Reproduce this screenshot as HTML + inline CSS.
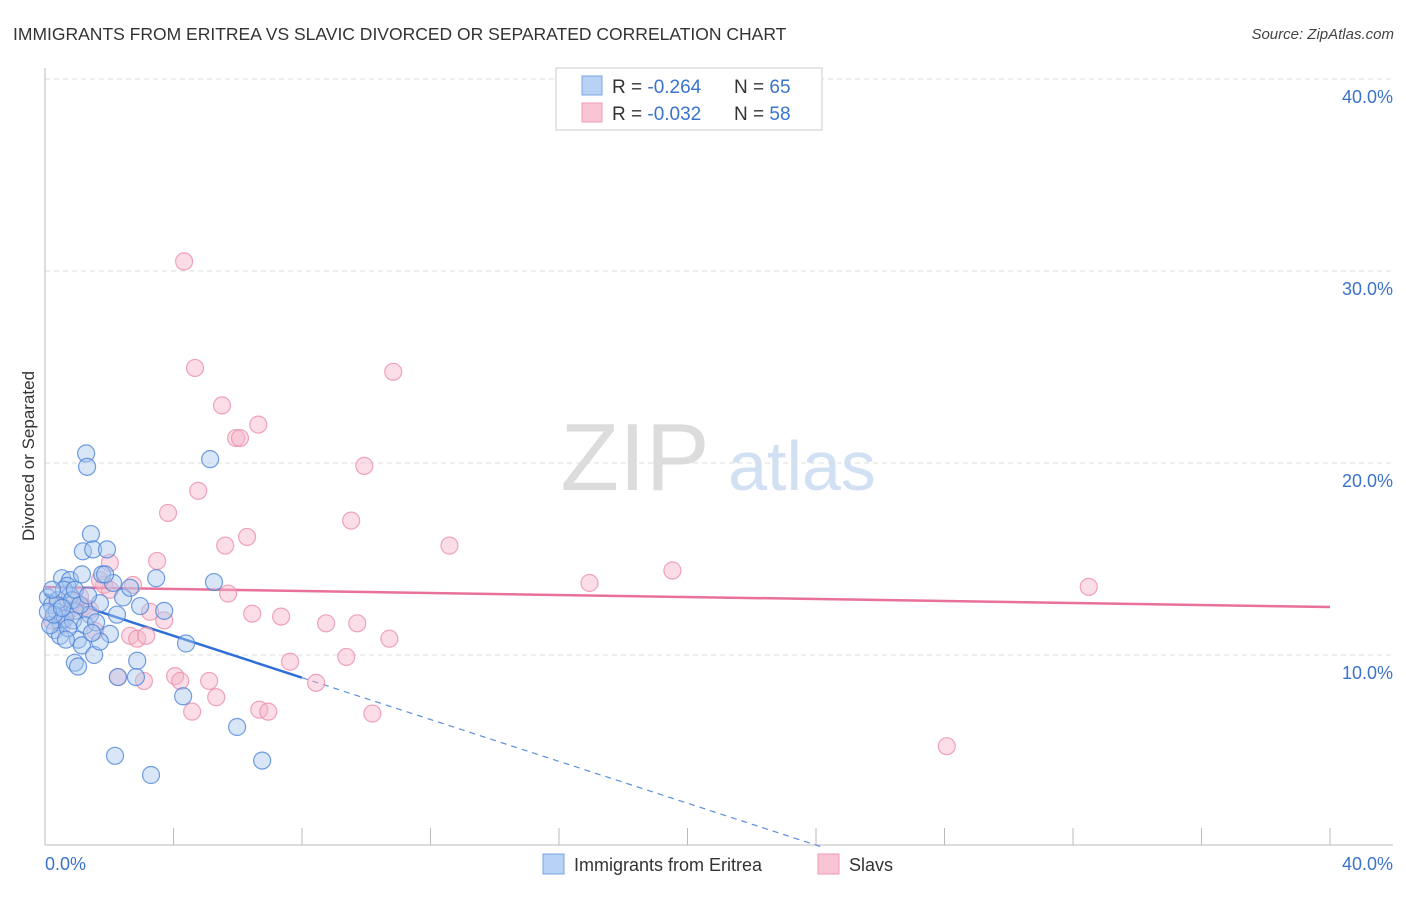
<!DOCTYPE html>
<html><head><meta charset="utf-8"><style>
body{margin:0;background:#fff;font-family:"Liberation Sans",sans-serif;}
svg text{font-family:"Liberation Sans",sans-serif;}
</style></head><body>
<svg id="chart" width="1406" height="892" xmlns="http://www.w3.org/2000/svg">
<text x="13" y="40" font-size="17.5" fill="#333">IMMIGRANTS FROM ERITREA VS SLAVIC DIVORCED OR SEPARATED CORRELATION CHART</text>
<text x="1394" y="39" font-size="15" fill="#444" font-style="italic" text-anchor="end">Source: ZipAtlas.com</text>
<g>
<text x="635" y="490" font-size="96" fill="#dcdcdc" font-family="Liberation Serif,serif" text-anchor="middle">ZIP</text>
<text x="802" y="490" font-size="70" fill="#d2e0f3" text-anchor="middle">atlas</text>
</g>
<g id="grid"></g>
<g id="axes"></g>
<text transform="translate(34,456) rotate(-90)" font-size="17" fill="#333" text-anchor="middle">Divorced or Separated</text>
<g id="trends"></g>
<g id="pts"></g>
<g>
<rect x="556" y="68" width="266" height="62" fill="#fff" stroke="#ccc"/>
<rect x="582" y="76" width="20" height="19" fill="#b8d2f5" stroke="#7aa6e3"/>
<rect x="582" y="103" width="20" height="19" fill="#f9c4d4" stroke="#ef9bb5"/>
<text x="612" y="93" font-size="19" fill="#333">R = <tspan fill="#3a73cc">-0.264</tspan><tspan x="734">N = </tspan><tspan fill="#3a73cc">65</tspan></text>
<text x="612" y="120" font-size="19" fill="#333">R = <tspan fill="#3a73cc">-0.032</tspan><tspan x="734">N = </tspan><tspan fill="#3a73cc">58</tspan></text>
</g>
<g>
<rect x="543" y="854" width="21" height="20" fill="#b8d2f5" stroke="#7aa6e3"/>
<text x="574" y="871" font-size="18" fill="#333">Immigrants from Eritrea</text>
<rect x="818" y="854" width="21" height="20" fill="#f9c4d4" stroke="#ef9bb5"/>
<text x="849" y="871" font-size="18" fill="#333">Slavs</text>
</g>
</svg>
<script>
const blueX=[1.28,1.31,5.14,1.43,1.18,1.50,1.93,0.53,0.78,0.69,1.15,1.78,2.12,3.46,5.26,2.43,2.96,3.71,2.24,0.09,0.22,0.37,0.47,0.93,0.62,0.31,0.47,0.87,1.40,1.03,1.15,2.02,1.53,1.71,4.39,2.87,0.93,1.03,2.27,2.83,4.30,5.98,2.18,3.30,6.76,0.16,0.78,0.40,1.25,1.59,0.59,0.84,0.28,0.72,1.09,1.71,0.09,0.53,0.93,1.34,0.22,0.65,1.46,1.87,2.65];
const blueY=[20.5,19.8,20.2,16.3,15.4,15.5,15.5,14.0,13.9,13.6,14.2,14.2,13.75,14.0,13.8,13.0,12.55,12.3,12.1,13.0,12.6,12.25,11.7,12.3,11.9,11.3,11.0,11.8,12.1,10.8,10.5,11.1,10.0,10.7,10.6,9.7,9.6,9.4,8.85,8.85,7.85,6.25,4.75,3.75,4.5,11.55,13.1,12.85,11.55,11.7,13.4,12.85,12.1,11.4,12.6,12.7,12.25,12.45,13.4,13.1,13.4,10.8,11.15,14.2,13.5];
const pinkX=[4.33,4.67,10.84,5.51,6.64,5.95,6.07,9.94,4.77,3.83,9.53,6.29,5.61,12.59,3.49,2.02,19.53,16.95,32.49,1.84,2.74,5.70,1.09,3.27,3.71,6.45,7.35,8.75,9.72,10.72,2.65,2.87,3.15,1.56,1.21,7.63,9.38,4.05,4.21,2.27,3.08,5.11,5.33,4.58,6.67,6.95,8.44,10.19,28.07,2.02,0.37,0.78,0.22,0.53,1.40,0.93,1.71,0.65];
const pinkY=[30.5,24.95,24.75,23.0,22.0,21.3,21.3,19.85,18.55,17.4,17.0,16.15,15.7,15.7,14.9,14.8,14.4,13.75,13.55,13.65,13.65,13.2,13.05,12.25,11.8,12.15,12.0,11.65,11.65,10.85,11.0,10.85,11.0,11.25,12.5,9.65,9.9,8.9,8.65,8.85,8.65,8.65,7.8,7.05,7.15,7.05,8.55,6.95,5.25,13.4,12.6,12.35,11.8,11.55,12.35,12.85,13.9,12.1];
const yTicks=[10,20,30,40];
const yTickLabels=["10.0%","20.0%","30.0%","40.0%"];
const xTickLabels=["0.0%","40.0%"];
const blueTrend=[13.18,-0.545];
const pinkTrend=[13.54,-0.026];
const NS="http://www.w3.org/2000/svg";
const sx=v=>45+v*32.125, sy=v=>847-v*19.2;
function mk(tag,attrs,parent){const e=document.createElementNS(NS,tag);for(const k in attrs)e.setAttribute(k,attrs[k]);document.getElementById(parent).appendChild(e);return e;}
yTicks.forEach((t,i)=>{
 const g=mk('line',{x1:45,x2:1393,y1:sy(t),y2:sy(t),stroke:'#ddd','stroke-dasharray':'5,4'},'grid');
 
 
 const l=mk('text',{x:1393,y:sy(t)+24,'font-size':18,fill:'#3a73cc','text-anchor':'end'},'grid');l.textContent=yTickLabels[i];
 
 
});
mk('line',{x1:45,x2:45,y1:68,y2:845,stroke:'#bbb'},'axes');
mk('line',{x1:45,x2:1393,y1:845,y2:845,stroke:'#bbb'},'axes');
for(let i=1;i<=10;i++){const t=mk('line',{x1:sx(i*4),x2:sx(i*4),y1:845,y2:828,stroke:'#bbb'},'axes');
 
 }
const xl0=mk('text',{x:45,y:870,'font-size':18,fill:'#3a73cc'},'axes');xl0.textContent=xTickLabels[0];


const xl1=mk('text',{x:1393,y:870,'font-size':18,fill:'#3a73cc','text-anchor':'end'},'axes');xl1.textContent=xTickLabels[1];


function addPts(xs,ys,fill,stroke,name){xs.forEach((x,i)=>{const c=mk('circle',{cx:sx(x),cy:sy(ys[i]),r:8.5,fill:fill,'fill-opacity':0.45,stroke:stroke,'stroke-width':1.2,'stroke-opacity':0.8},'pts');
 
 });}
addPts(pinkX,pinkY,'#f5b3c7','#ec8fab','slavs-point');
addPts(blueX,blueY,'#a9c8f0','#4f86d8','eritrea-point');
const pl=mk('line',{x1:sx(0),y1:sy(pinkTrend[0]),x2:sx(40),y2:sy(pinkTrend[0]+pinkTrend[1]*40),stroke:'#e8709a','stroke-width':2.5},'trends');


const bl=mk('line',{x1:sx(0),y1:sy(blueTrend[0]),x2:sx(8),y2:sy(blueTrend[0]+blueTrend[1]*8),stroke:'#2f6fd6','stroke-width':2.5},'trends');


const xe=-blueTrend[0]/blueTrend[1];
const bd=mk('line',{x1:sx(8),y1:sy(blueTrend[0]+blueTrend[1]*8),x2:sx(xe),y2:sy(0),stroke:'#5b8fdc','stroke-width':1.2,'stroke-dasharray':'6,5'},'trends');


</script>
</body></html>
